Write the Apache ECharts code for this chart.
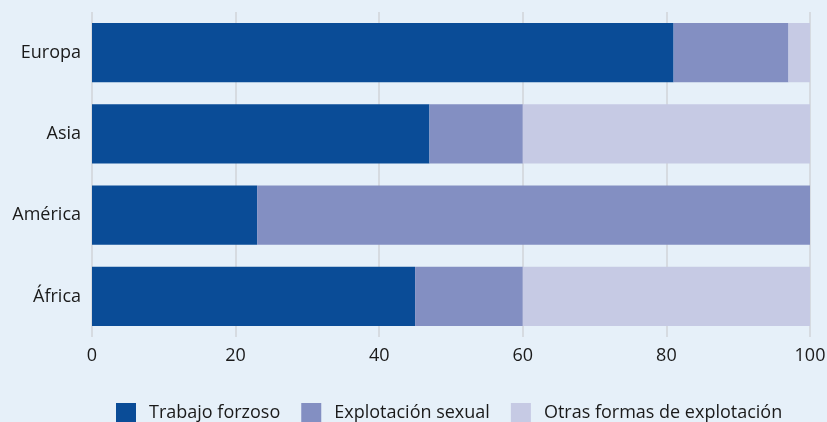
<!DOCTYPE html>
<html>
<head>
<meta charset="utf-8">
<script src="https://cdn.jsdelivr.net/npm/echarts@6/dist/echarts.min.js"></script>
<style>
  html, body { margin: 0; padding: 0; background: #e6f0f9; }
  #chart { width: 827px; height: 422px; }
</style>
</head>
<body>
<div id="chart"></div>
<script>
// regiones (de arriba a abajo)
const regions = ['Europa', 'Asia', 'América', 'África']
// porcentaje por forma de explotación
const forcedLabour = [81, 47, 23, 45]
const sexualExploitation = [16, 13, 77, 15]
const otherForms = [3, 40, 0, 40]
const seriesNames = ['Trabajo forzoso', 'Explotación sexual', 'Otras formas de explotación']

const chart = echarts.init(document.getElementById('chart'))
const font = '"Open Sans", "DejaVu Sans", sans-serif'

function bar(name, data) {
  return {
    name: name,
    type: 'bar',
    stack: 'total',
    barCategoryGap: '27%',
    data: data
  }
}

chart.setOption({
  backgroundColor: '#e6f0f9',
  color: ['#0a4c97', '#838fc2', '#c6cae4'],
  textStyle: { fontFamily: font },
  legend: {
    left: 116,
    top: 403,
    padding: 0,
    itemWidth: 20,
    itemHeight: 20,
    itemGap: 21,
    icon: 'rect',
    textStyle: { fontSize: 18, color: '#1a1a1a', fontFamily: font, padding: [0, 0, 0, 8] },
    data: seriesNames
  },
  grid: { left: 92, right: 17, top: 12, bottom: 85, outerBoundsMode: 'none' },
  xAxis: {
    type: 'value',
    min: 0,
    max: 100,
    interval: 20,
    axisLine: { show: false },
    axisTick: { show: false },
    axisLabel: { fontSize: 18, color: '#1a1a1a', margin: 10, fontFamily: font },
    splitLine: { show: true, lineStyle: { color: '#d0d4d8', width: 1.5 } }
  },
  yAxis: {
    type: 'category',
    inverse: true,
    data: regions,
    axisLine: { show: false },
    axisTick: { show: false },
    axisLabel: { fontSize: 18, color: '#1a1a1a', margin: 11, fontFamily: font }
  },
  series: [
    bar(seriesNames[0], forcedLabour),
    bar(seriesNames[1], sexualExploitation),
    bar(seriesNames[2], otherForms)
  ]
})
</script>
</body>
</html>
